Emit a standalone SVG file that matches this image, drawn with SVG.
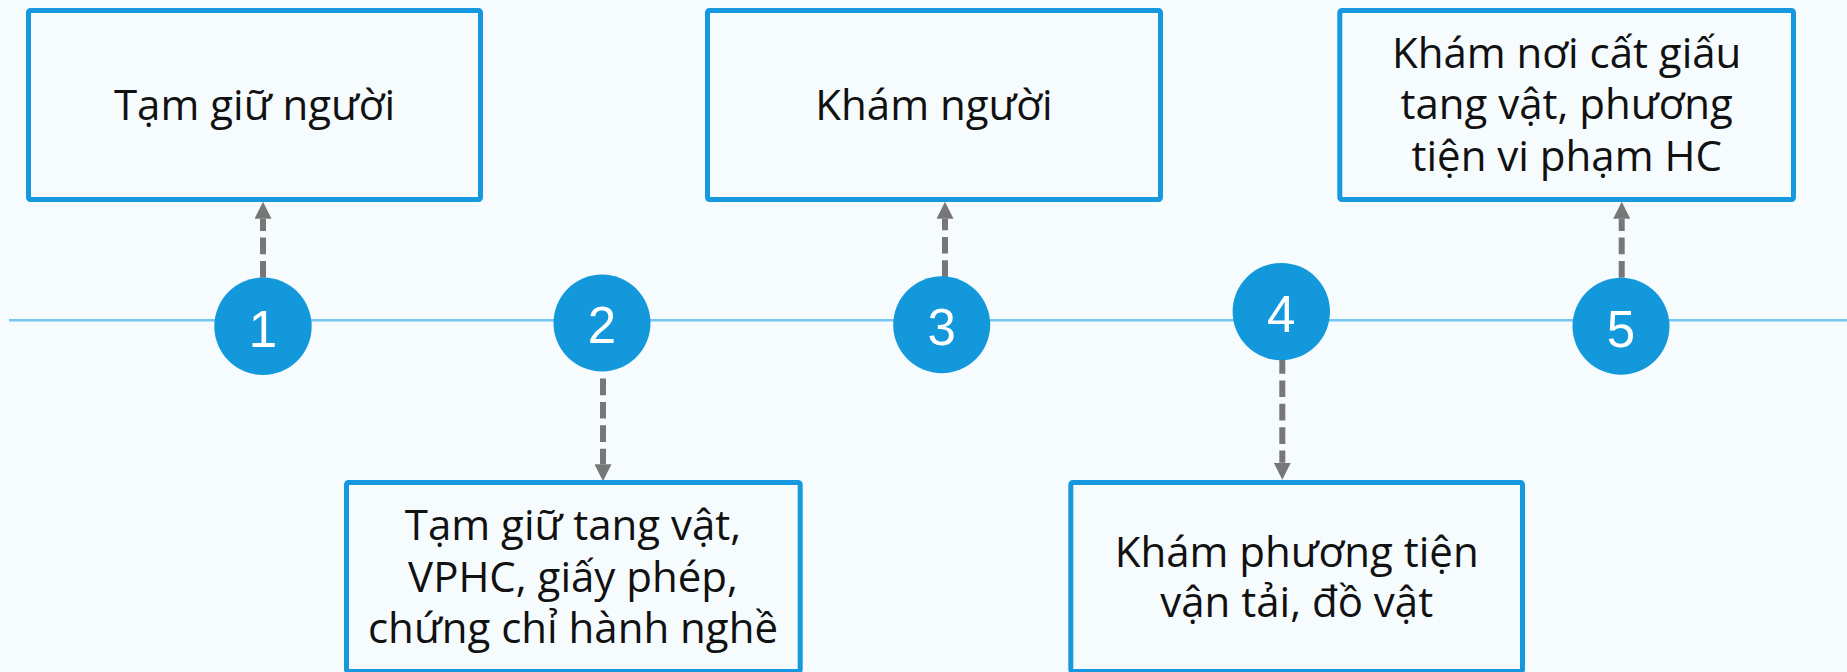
<svg xmlns="http://www.w3.org/2000/svg" width="1847" height="672" viewBox="0 0 1847 672">
<style>
.box{fill:#f6fbfe;stroke:#1598dd;stroke-width:5}
.lbl{font-family:"Open Sans","Noto Sans","Liberation Sans",sans-serif;font-size:42px;fill:#111;text-anchor:middle}
.dot{fill:#1399db}
.num{font-family:"Liberation Sans",Arial,sans-serif;font-size:51px;fill:#fff;text-anchor:middle}
.conn{fill:none;stroke:#777;stroke-width:6;stroke-dasharray:16.7 6.7}
.timeline{stroke:#75c8f3;stroke-width:2.6}
</style>
<defs>
<marker id="ah" viewBox="0 0 17 17" refX="0" refY="8.5" markerWidth="17" markerHeight="17" markerUnits="userSpaceOnUse" orient="auto">
<path d="M0,0 L17,8.5 L0,17 Z" fill="#777"/>
</marker>
</defs>
<rect x="0" y="0" width="1847" height="672" fill="#f6fbfe"/>
<line class="timeline" x1="9" y1="320.3" x2="1847" y2="320.3"/>
<g id="connectors">
<path class="conn" d="M263,277.7 L263,218.7" marker-end="url(#ah)"/>
<path class="conn" d="M603,378.5 L603,464.3" marker-end="url(#ah)"/>
<path class="conn" d="M945,277 L945,218.7" marker-end="url(#ah)"/>
<path class="conn" d="M1282.3,357 L1282.3,462.8" marker-end="url(#ah)"/>
<path class="conn" d="M1621.7,277.7 L1621.7,218.7" marker-end="url(#ah)"/>
</g>
<g id="step1">
<circle class="dot" cx="263" cy="326.3" r="48.7"/>
<text class="num" x="263" y="346.6">1</text>
</g>
<g id="step2">
<circle class="dot" cx="602" cy="323" r="48.5"/>
<text class="num" x="602" y="343.3">2</text>
</g>
<g id="step3">
<circle class="dot" cx="941.7" cy="324.8" r="48.5"/>
<text class="num" x="941.7" y="345.1">3</text>
</g>
<g id="step4">
<circle class="dot" cx="1281.3" cy="311.6" r="48.7"/>
<text class="num" x="1281.3" y="332">4</text>
</g>
<g id="step5">
<circle class="dot" cx="1621" cy="326.3" r="48.5"/>
<text class="num" x="1621" y="346.6">5</text>
</g>
<g id="box1">
<rect class="box" x="28.5" y="10.5" width="452" height="189" rx="2"/>
<text class="lbl" x="254.5" y="120">Tạm giữ người</text>
</g>
<g id="box2">
<rect class="box" x="346.5" y="482.5" width="453.7" height="189" rx="2"/>
<text class="lbl" x="573" y="540.3">Tạm giữ tang vật,</text>
<text class="lbl" x="573" y="592.3">VPHC, giấy phép,</text>
<text class="lbl" x="573" y="642.7">chứng chỉ hành nghề</text>
</g>
<g id="box3">
<rect class="box" x="707.5" y="10.5" width="453" height="189" rx="2"/>
<text class="lbl" x="934" y="120">Khám người</text>
</g>
<g id="box4">
<rect class="box" x="1070.8" y="482.5" width="451.7" height="189" rx="2"/>
<text class="lbl" x="1296.7" y="567">Khám phương tiện</text>
<text class="lbl" x="1296.7" y="617">vận tải, đồ vật</text>
</g>
<g id="box5">
<rect class="box" x="1339.8" y="10.5" width="453.7" height="189" rx="2"/>
<text class="lbl" x="1566.7" y="68.3">Khám nơi cất giấu</text>
<text class="lbl" x="1566.7" y="119">tang vật, phương</text>
<text class="lbl" x="1566.7" y="170.7">tiện vi phạm HC</text>
</g>
</svg>
